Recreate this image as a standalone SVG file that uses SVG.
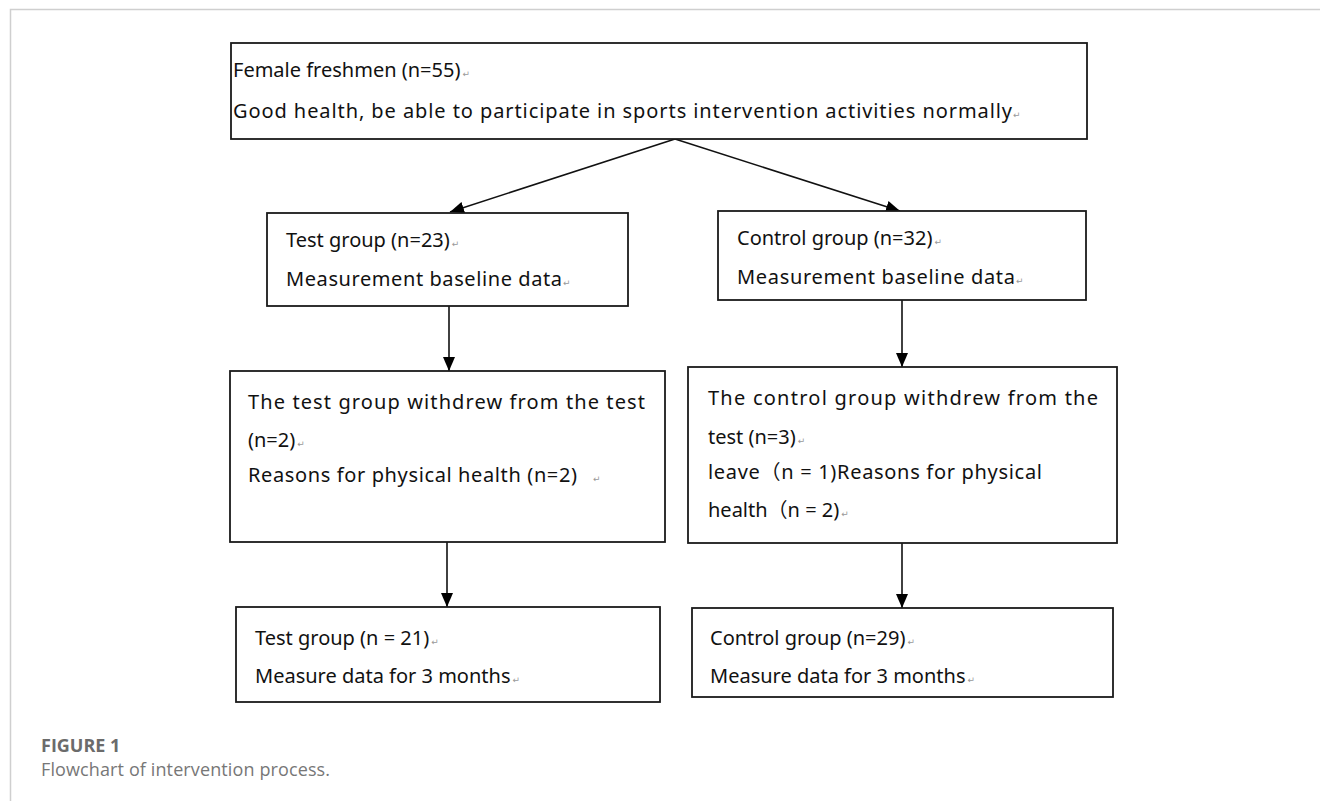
<svg xmlns="http://www.w3.org/2000/svg" width="1320" height="801" viewBox="0 0 1320 801">
<defs>
<marker id="ah" viewBox="0 0 14 12" refX="14" refY="6" markerWidth="14" markerHeight="12" markerUnits="userSpaceOnUse" orient="auto">
<path d="M0,0 L14,6 L0,12 z" fill="#000"/>
</marker>
<style>
.box{fill:#fff;stroke:#1a1a1a;stroke-width:1.8}
.t{font-family:"Noto Sans","Noto Sans CJK SC",sans-serif;font-size:20px;fill:#111}
.pm{font-family:"DejaVu Sans",sans-serif;font-size:9px;fill:#999}
.c{stroke:#111;stroke-width:1.6;fill:none;marker-end:url(#ah)}
.frame{stroke:#cfcfcf;stroke-width:1.5;fill:none}
.cap1{font-family:"Open Sans",sans-serif;font-weight:bold;font-size:18px;fill:#6b6b6b}
.cap2{font-family:"Open Sans",sans-serif;font-size:18px;fill:#777}
</style>
</defs>
<rect width="1320" height="801" fill="#fff"/>
<path class="frame" d="M10.5,801 V9.5 H1320"/>

<g id="connectors">
<line class="c" x1="675" y1="139" x2="450" y2="212"/>
<line class="c" x1="675" y1="139" x2="900" y2="211"/>
<line class="c" x1="449" y1="306" x2="449" y2="371"/>
<line class="c" x1="902" y1="300" x2="902" y2="367"/>
<line class="c" x1="447" y1="542" x2="447" y2="607"/>
<line class="c" x1="902" y1="543" x2="902" y2="608"/>
</g>

<g id="n-top">
<rect class="box" x="231" y="43" width="856" height="96"/>
<text class="t" x="233" y="77">Female freshmen (n=55)<tspan class="pm" dx="2">↵</tspan></text>
<text class="t" x="233" y="118" textLength="779" lengthAdjust="spacing">Good health, be able to participate in sports intervention activities normally</text>
<text class="pm" x="1013" y="118">↵</text>
</g>

<g id="n-test">
<rect class="box" x="267" y="213" width="361" height="93"/>
<text class="t" x="286" y="247">Test group (n=23)<tspan class="pm" dx="2">↵</tspan></text>
<text class="t" x="286" y="286" textLength="276" lengthAdjust="spacing">Measurement baseline data</text>
<text class="pm" x="563" y="286">↵</text>
</g>

<g id="n-control">
<rect class="box" x="718" y="211" width="368" height="89"/>
<text class="t" x="737" y="245">Control group (n=32)<tspan class="pm" dx="2">↵</tspan></text>
<text class="t" x="737" y="284" textLength="278" lengthAdjust="spacing">Measurement baseline data</text>
<text class="pm" x="1016" y="284">↵</text>
</g>

<g id="n-test-withdrew">
<rect class="box" x="230" y="371" width="435" height="171"/>
<text class="t" x="248" y="409" textLength="397" lengthAdjust="spacing">The test group withdrew from the test</text>
<text class="t" x="248" y="447">(n=2)<tspan class="pm" dx="2">↵</tspan></text>
<text class="t" x="248" y="482" textLength="329" lengthAdjust="spacing">Reasons for physical health (n=2)</text>
<text class="pm" x="593" y="482">↵</text>
</g>

<g id="n-control-withdrew">
<rect class="box" x="688" y="367" width="429" height="176"/>
<text class="t" x="708" y="405" textLength="390" lengthAdjust="spacing">The control group withdrew from the</text>
<text class="t" x="708" y="444">test (n=3)<tspan class="pm" dx="2">↵</tspan></text>
<text class="t" x="708" y="479" textLength="334" lengthAdjust="spacing">leave（n = 1)Reasons for physical</text>
<text class="t" x="708" y="517">health（n = 2)<tspan class="pm" dx="2">↵</tspan></text>
</g>

<g id="n-test-final">
<rect class="box" x="236" y="607" width="424" height="95"/>
<text class="t" x="255" y="645">Test group (n = 21)<tspan class="pm" dx="2">↵</tspan></text>
<text class="t" x="255" y="683">Measure data for 3 months<tspan class="pm" dx="2">↵</tspan></text>
</g>

<g id="n-control-final">
<rect class="box" x="692" y="608" width="421" height="89"/>
<text class="t" x="710" y="645">Control group (n=29)<tspan class="pm" dx="2">↵</tspan></text>
<text class="t" x="710" y="683">Measure data for 3 months<tspan class="pm" dx="2">↵</tspan></text>
</g>

<g id="caption">
<text class="cap1" x="41" y="752">FIGURE 1</text>
<text class="cap2" x="41" y="776" textLength="289" lengthAdjust="spacing">Flowchart of intervention process.</text>
</g>
</svg>
